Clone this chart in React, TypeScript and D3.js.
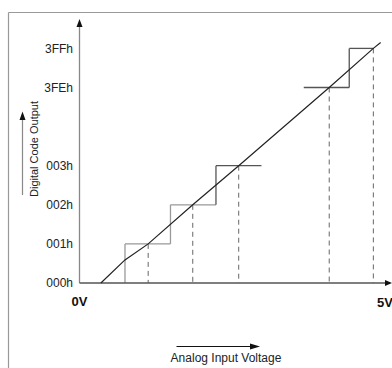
import React from "react";
import * as d3 from "d3";

// Output code tick labels and their positions on the (broken) code axis
const codeLabels = ["000h", "001h", "002h", "003h", "3FEh", "3FFh"];
const codeRanks = [0, 1, 2, 3, 5, 6];

// Quantizer staircase: each step's code, start/end input (in LSB units) and riser origin
const stepCodes = [1, 2, 3, 5, 6];
const stepStarts = [1.0, 2.0, 3.0, 4.93, 5.93];
const stepEnds = [2.0, 3.0, 4.0, 5.93, 6.46];
const riserFrom: (number | null)[] = [0, 1, 2, null, 5];

// Ideal transfer line through step centres
const lineInputs = [0.47, 1.0, 1.51, 2.49, 3.5, 5.49, 6.46, 6.62];
const lineCodes = [0, 0.59, 1, 2, 3, 5, 6, 6.15];

// Step centres marked with dashed drop lines
const centreInputs = [1.51, 2.49, 3.5, 5.49, 6.46];
const centreCodes = [1, 2, 3, 5, 6];

const W = 392;
const H = 368;
const FONT = "'Liberation Sans', Arial, sans-serif";

export default function App() {
  const x = d3.scaleLinear().domain([0, 6.87]).range([79.5, 392]);
  const y = d3.scaleLinear().domain([0, 6]).range([283, 48.4]);

  const line = d3
    .line<number>()
    .x((_, i) => x(lineInputs[i]))
    .y((_, i) => y(lineCodes[i]));

  const x0 = x(0);
  const y0 = y(0);
  const yTop = y(6.75);
  const xEnd = x(6.87);

  return (
    <svg
      width={W}
      height={H}
      style={{ position: "absolute", left: 0, top: 0, background: "#fff" }}
      fontFamily={FONT}
    >
      {/* frame */}
      <line x1={8.5} y1={12.5} x2={W} y2={12.5} stroke="#999" strokeWidth={1.2} />
      <line x1={8.5} y1={12.5} x2={8.5} y2={H} stroke="#999" strokeWidth={1.2} />

      {/* dashed drop lines */}
      {centreInputs.map((v, i) => (
        <line
          key={"d" + i}
          x1={x(v)}
          x2={x(v)}
          y1={y(centreCodes[i])}
          y2={y0}
          stroke="#666"
          strokeWidth={1}
          strokeDasharray="5,4"
        />
      ))}

      {/* staircase */}
      {stepCodes.map((c, i) => {
        const col = i < 2 ? "#999" : "#555";
        const rf = riserFrom[i];
        return (
          <g key={"s" + i} stroke={col} strokeWidth={1.3}>
            <line x1={x(stepStarts[i])} x2={x(stepEnds[i])} y1={y(c)} y2={y(c)} />
            {rf !== null && (
              <line x1={x(stepStarts[i])} x2={x(stepStarts[i])} y1={y(rf)} y2={y(c)} />
            )}
          </g>
        );
      })}

      {/* axes */}
      <line x1={x0} y1={y0} x2={x0} y2={yTop + 6} stroke="#888" strokeWidth={1.3} />
      <path d={`M${x0},${yTop} L${x0 - 3},${yTop + 8} L${x0 + 3},${yTop + 8} Z`} fill="#111" />
      <line x1={x0} y1={y0} x2={xEnd - 5} y2={y0} stroke="#555" strokeWidth={1.3} />
      <path d={`M${xEnd},${y0} L${xEnd - 7},${y0 - 3} L${xEnd - 7},${y0 + 3} Z`} fill="#111" />

      {/* transfer line */}
      <path d={line(lineInputs) || ""} fill="none" stroke="#222" strokeWidth={1.2} />

      {/* code tick labels */}
      {codeLabels.map((t, i) => (
        <text
          key={"t" + i}
          x={73}
          y={y(codeRanks[i])}
          dy="0.35em"
          textAnchor="end"
          fontSize={12}
          fill="#222"
        >
          {t}
        </text>
      ))}

      {/* input range labels */}
      <text x={x0} y={301} dy="0.35em" textAnchor="middle" fontSize={13} fontWeight="bold" fill="#111">
        0V
      </text>
      <text x={393} y={302} dy="0.35em" textAnchor="end" fontSize={13} fontWeight="bold" fill="#111">
        5V
      </text>

      {/* horizontal axis title with arrow */}
      <line x1={176.5} y1={346.5} x2={252} y2={346.5} stroke="#111" strokeWidth={1} />
      <path d="M260,346.5 L250,343.5 L250,349.5 Z" fill="#111" />
      <text x={226} y={358} dy="0.35em" textAnchor="middle" fontSize={12} fill="#222">
        Analog Input Voltage
      </text>

      {/* vertical axis title with arrow */}
      <line x1={22.5} y1={195} x2={22.5} y2={118} stroke="#888" strokeWidth={1.2} />
      <path d="M22.5,111.5 L19.5,120 L25.5,120 Z" fill="#111" />
      <text
        transform="translate(34,149) rotate(-90)"
        dy="0.35em"
        textAnchor="middle"
        fontSize={11}
        fill="#222"
      >
        Digital Code Output
      </text>
    </svg>
  );
}
